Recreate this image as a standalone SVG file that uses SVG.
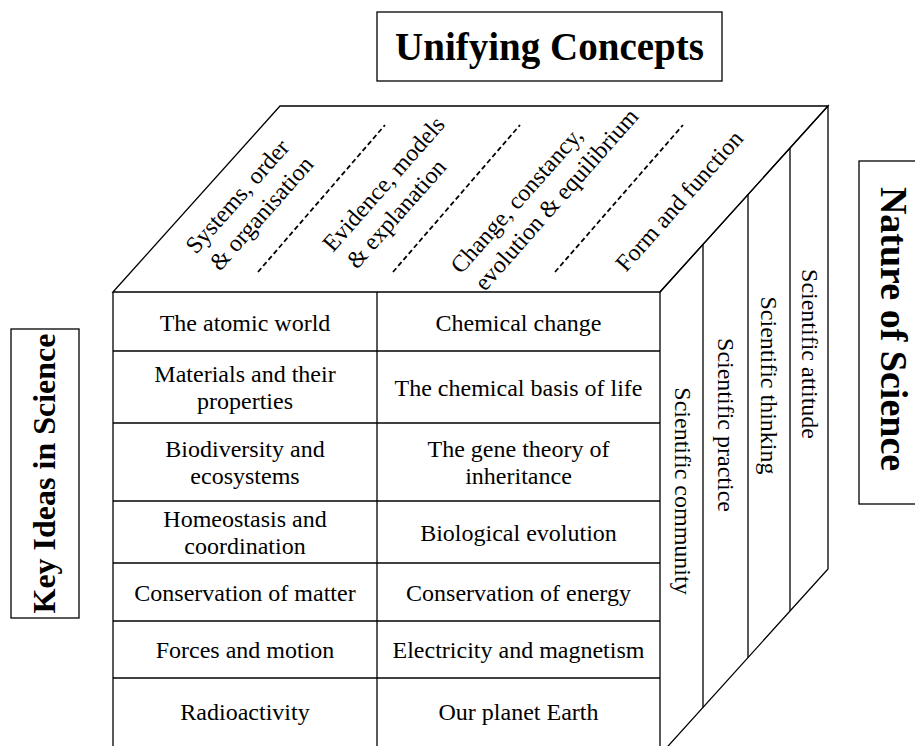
<svg xmlns="http://www.w3.org/2000/svg" width="915" height="746" viewBox="0 0 915 746">
<style>
.ln{stroke:#000;stroke-width:1.3;fill:none}
.dash{stroke:#000;stroke-width:1.8;stroke-dasharray:5 3;fill:none}
.t{font-family:"Liberation Serif","Times New Roman",serif;font-size:24px;fill:#000}
.c{text-anchor:middle}
.h{font-family:"Liberation Serif","Times New Roman",serif;font-weight:bold;fill:#000;text-anchor:middle}
.box{stroke:#000;stroke-width:1.3;fill:#fff}
</style>
<rect width="915" height="746" fill="#fff"/>

<g id="title-unifying">
<rect class="box" x="377" y="12" width="345" height="69"/>
<text class="h" x="549.5" y="60" font-size="39">Unifying Concepts</text>
</g>

<g id="title-nature">
<rect class="box" x="859" y="161" width="75" height="343"/>
<text class="h" font-size="38" transform="translate(894,329) rotate(90)" y="13">Nature of Science</text>
</g>

<g id="title-keyideas">
<rect class="box" x="11" y="329" width="68" height="289"/>
<text class="h" font-size="32" transform="translate(44,473.5) rotate(-90)" y="11">Key Ideas in Science</text>
</g>

<g id="connectors">
<polygon class="ln" points="113,292 280,106 828,106 660,292"/>
<polyline class="ln" points="660,292 828,106 828,569 660,755"/>
<line class="ln" x1="703" y1="244.4" x2="703" y2="707.4"/>
<line class="ln" x1="748" y1="194.6" x2="748" y2="657.6"/>
<line class="ln" x1="790" y1="148" x2="790" y2="611"/>
<line class="ln" x1="113" y1="292" x2="113" y2="760"/>
<line class="ln" x1="660" y1="292" x2="660" y2="760"/>
<line class="ln" x1="377" y1="292" x2="377" y2="760"/>
<line class="ln" x1="113" y1="351" x2="660" y2="351"/>
<line class="ln" x1="113" y1="423" x2="660" y2="423"/>
<line class="ln" x1="113" y1="501" x2="660" y2="501"/>
<line class="ln" x1="113" y1="563" x2="660" y2="563"/>
<line class="ln" x1="113" y1="621" x2="660" y2="621"/>
<line class="ln" x1="113" y1="678" x2="660" y2="678"/>
<line class="dash" x1="258" y1="272" x2="385" y2="125"/>
<line class="dash" x1="393" y1="272" x2="520" y2="125"/>
<line class="dash" x1="555" y1="272" x2="683" y2="125"/>
</g>

<g id="top-concepts">
<text class="t" transform="translate(196,255) rotate(-48.5)">Systems, order</text>
<text class="t" transform="translate(220,272) rotate(-48.5)">&amp; organisation</text>
<text class="t" transform="translate(333,253) rotate(-48.5)">Evidence, models</text>
<text class="t" transform="translate(357,270) rotate(-48.5)">&amp; explanation</text>
<text class="t" transform="translate(461,275) rotate(-48.5)">Change, constancy,</text>
<text class="t" transform="translate(485,292) rotate(-48.5)">evolution &amp; equilibrium</text>
<text class="t" transform="translate(626,273) rotate(-48.5)">Form and function</text>
</g>

<g id="nature-bands">
<text class="t c" transform="translate(683,491) rotate(90)" y="8">Scientific community</text>
<text class="t c" transform="translate(726,425) rotate(90)" y="8">Scientific practice</text>
<text class="t c" transform="translate(769,385.5) rotate(90)" y="8">Scientific thinking</text>
<text class="t c" transform="translate(810,354) rotate(90)" y="8">Scientific attitude</text>
</g>

<g id="key-ideas">
<text class="t c" x="245" y="331">The atomic world</text>
<text class="t c" x="518.5" y="331">Chemical change</text>
<text class="t c" x="245" y="382">Materials and their</text>
<text class="t c" x="245" y="409">properties</text>
<text class="t c" x="518.5" y="396">The chemical basis of life</text>
<text class="t c" x="245" y="457">Biodiversity and</text>
<text class="t c" x="245" y="484">ecosystems</text>
<text class="t c" x="518.5" y="457">The gene theory of</text>
<text class="t c" x="518.5" y="484">inheritance</text>
<text class="t c" x="245" y="527">Homeostasis and</text>
<text class="t c" x="245" y="554">coordination</text>
<text class="t c" x="518.5" y="541">Biological evolution</text>
<text class="t c" x="245" y="601">Conservation of matter</text>
<text class="t c" x="518.5" y="601">Conservation of energy</text>
<text class="t c" x="245" y="658">Forces and motion</text>
<text class="t c" x="518.5" y="658">Electricity and magnetism</text>
<text class="t c" x="245" y="720">Radioactivity</text>
<text class="t c" x="518.5" y="720">Our planet Earth</text>
</g>
</svg>
